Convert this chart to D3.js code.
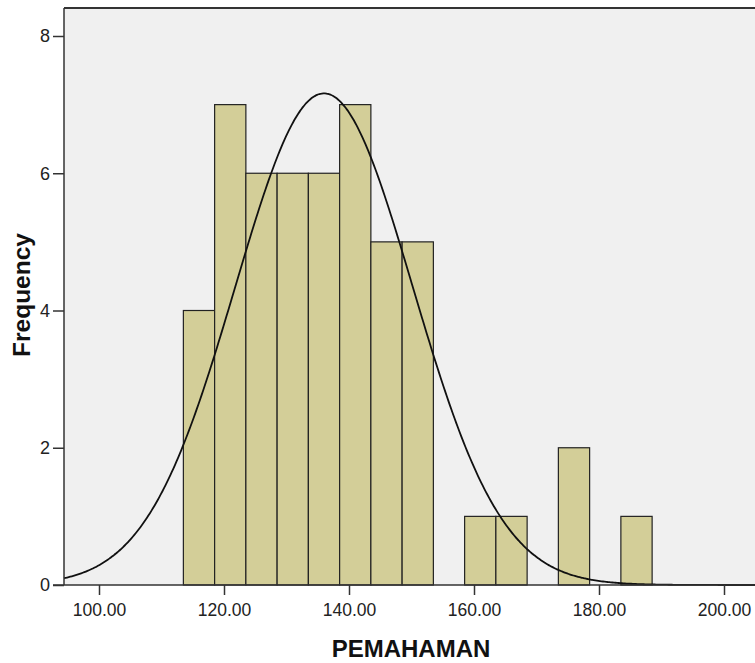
<!DOCTYPE html>
<html><head><meta charset="utf-8">
<script src="https://cdn.jsdelivr.net/npm/d3@7"></script>
<style>body{margin:0;background:#fff;} text{font-family:"Liberation Sans",Arial,sans-serif;}</style>
</head><body>
<svg id="c" width="755" height="663"></svg>
<script>
const binStarts = [113.5,118.5,123.5,128.5,133.5,138.5,143.5,148.5,158.5,163.5,173.5,183.5];
const binWidth = 5;
const counts = [4,7,6,6,6,7,5,5,1,1,2,1];
const xTicks = [100,120,140,160,180,200];
const yTicks = [0,2,4,6,8];
const curveMean = [136.0];
const curveSD = [14.2];
const curveN = [51];

const svg = d3.select("#c");
const L = 64, T = 8, B = 585, R = 770;
const x = d3.scaleLinear().domain([94.4, 100 + (R-99)/6.25]).range([L, R]);
const y = d3.scaleLinear().domain([0, 8]).range([B, 36]);

svg.append("rect").attr("x", L).attr("y", T).attr("width", R-L).attr("height", B-T).attr("fill", "#f0f0f0");

svg.selectAll("rect.bar").data(binStarts).enter().append("rect")
  .attr("class","bar")
  .attr("x", d => x(d)).attr("y", (d,i) => y(counts[i]))
  .attr("width", d => x(d+binWidth)-x(d)).attr("height", (d,i) => y(0)-y(counts[i]))
  .attr("fill", "#d3ce98").attr("stroke", "#222").attr("stroke-width", 1.2);

const m = curveMean[0], s = curveSD[0], n = curveN[0];
const pts = d3.range(x.domain()[0], x.domain()[1], 0.25).map(v => [v, n*binWidth/(s*Math.sqrt(2*Math.PI))*Math.exp(-0.5*((v-m)/s)**2)]);
svg.append("path").datum(pts)
  .attr("d", d3.line().x(d=>x(d[0])).y(d=>y(d[1])).curve(d3.curveBasis))
  .attr("fill","none").attr("stroke","#111").attr("stroke-width",1.8);

// borders
svg.append("line").attr("x1",L).attr("x2",R).attr("y1",T).attr("y2",T).attr("stroke","#333").attr("stroke-width",2);
svg.append("line").attr("x1",L).attr("x2",L).attr("y1",T).attr("y2",B).attr("stroke","#333").attr("stroke-width",1.5);
svg.append("line").attr("x1",L-11).attr("x2",R).attr("y1",B).attr("y2",B).attr("stroke","#333").attr("stroke-width",1.5);

const yg = svg.append("g").attr("transform", `translate(${L},0)`)
  .call(d3.axisLeft(y).tickValues(yTicks).tickSize(11).tickPadding(3).tickFormat(d3.format("d")));
yg.select(".domain").remove();
yg.selectAll("line").attr("stroke","#333").attr("stroke-width",1.5);
yg.selectAll("text").attr("font-size",18).attr("fill","#222").style("font-family","'Liberation Sans',Arial,sans-serif");

const xg = svg.append("g").attr("transform", `translate(0,${B})`)
  .call(d3.axisBottom(x).tickValues(xTicks).tickSize(10).tickFormat(d3.format(".2f")));
xg.select(".domain").remove();
xg.selectAll("line").attr("stroke","#333").attr("stroke-width",1.5);
xg.selectAll("text").attr("font-size",17.5).attr("fill","#222").attr("y",31).attr("dy",0).style("font-family","'Liberation Sans',Arial,sans-serif");

svg.append("text").attr("x",411).attr("y",657).attr("text-anchor","middle")
  .attr("font-size",24).attr("font-weight","bold").attr("fill","#111").text("PEMAHAMAN");
svg.append("text").attr("transform","translate(30,295) rotate(-90)").attr("text-anchor","middle")
  .attr("font-size",24.5).attr("font-weight","bold").attr("fill","#111").text("Frequency");
</script>
</body></html>
